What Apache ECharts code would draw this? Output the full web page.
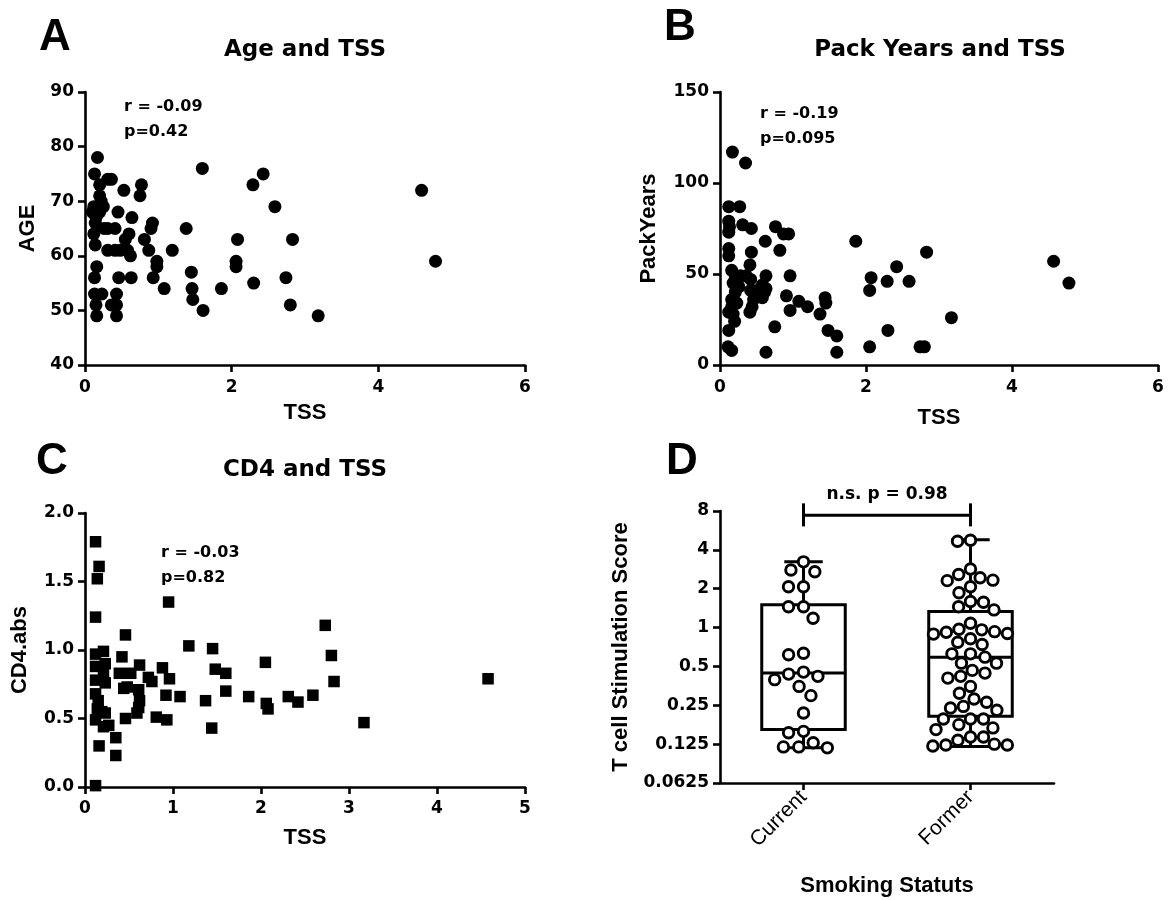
<!DOCTYPE html>
<html><head><meta charset="utf-8">
<script src="https://cdn.jsdelivr.net/npm/echarts@6/dist/echarts.min.js"></script>
<style>html,body{margin:0;padding:0;background:#fff}#c{width:1173px;height:900px}</style>
</head><body><div id="c"></div>
<script>
// ---------- DATA ----------
// Panel A: [TSS, AGE]
const ageTSS = [[0.17,78],[0.13,75],[0.31,74],[0.36,74],[0.2,73],[0.53,72],[0.77,73],[0.75,71],[0.2,71],[0.22,70],[0.12,69],[0.25,69],[0.1,68],[0.2,68],[0.15,67],[0.14,66],[0.12,64],[0.14,62],[0.26,65],[0.31,65],[0.41,65],[0.45,68],[0.64,67],[0.6,64],[0.55,63],[0.31,61],[0.41,61],[0.48,61],[0.58,61],[0.62,60],[0.16,58],[0.13,56],[0.46,56],[0.63,56],[0.13,53],[0.23,53],[0.15,51],[0.16,49],[0.43,53],[0.36,51],[0.43,51],[0.43,49],[0.81,63],[0.87,61],[0.92,66],[0.9,65],[0.98,59],[0.98,58],[0.93,56],[1.08,54],[1.19,61],[1.38,65],[1.45,57],[1.46,54],[1.47,52],[1.61,50],[1.6,76],[1.86,54],[2.06,59],[2.06,58],[2.08,63],[2.29,73],[2.43,75],[2.3,55],[2.59,69],[2.74,56],[2.8,51],[2.83,63],[3.18,49],[4.59,72],[4.78,59]];
// Panel B: [TSS, PackYears]
const packTSS = [[0.17,117],[0.35,111],[0.12,87],[0.27,87],[0.12,79],[0.13,76],[0.12,73],[0.31,77],[0.43,75],[0.76,76],[0.87,72],[0.94,72],[0.82,63],[0.62,68],[0.12,64],[0.12,60],[0.43,62],[0.41,55],[0.16,52],[0.21,49],[0.28,49],[0.36,49],[0.42,47],[0.18,45],[0.26,43],[0.21,40],[0.16,36],[0.23,34],[0.16,32],[0.18,28],[0.2,24],[0.12,29],[0.12,19],[0.11,10],[0.16,8],[0.42,41],[0.46,36],[0.44,32],[0.41,29],[0.51,41],[0.56,42],[0.61,40],[0.58,44],[0.53,38],[0.58,37],[0.63,42],[0.63,49],[0.75,21],[0.63,7],[0.96,49],[0.91,38],[0.96,30],[1.08,35],[1.2,32],[1.37,28],[1.44,37],[1.45,34],[1.48,19],[1.6,16],[1.6,7],[1.86,68],[2.05,41],[2.07,48],[2.29,46],[2.42,54],[2.59,46],[2.3,19],[2.05,10],[2.74,10],[2.8,10],[2.83,62],[3.17,26],[4.57,57],[4.78,45]];
// Panel C: [TSS, CD4.abs]
const cd4TSS = [[0.12,1.79],[0.16,1.61],[0.14,1.52],[0.12,1.24],[0.95,1.35],[0.46,1.11],[1.18,1.03],[1.45,1.01],[2.73,1.18],[2.8,0.96],[2.83,0.77],[2.05,0.91],[4.58,0.79],[3.17,0.47],[2.59,0.67],[2.42,0.62],[2.31,0.66],[2.06,0.61],[2.08,0.57],[1.86,0.66],[1.6,0.7],[1.6,0.83],[1.48,0.86],[1.37,0.63],[1.44,0.43],[1.08,0.66],[0.92,0.67],[0.93,0.49],[0.81,0.51],[0.96,0.79],[0.88,0.87],[0.76,0.77],[0.72,0.8],[0.62,0.89],[0.61,0.71],[0.62,0.63],[0.61,0.58],[0.59,0.54],[0.52,0.83],[0.44,0.72],[0.48,0.73],[0.42,0.95],[0.39,0.83],[0.46,0.5],[0.35,0.36],[0.35,0.23],[0.27,0.45],[0.21,0.44],[0.19,0.55],[0.16,0.3],[0.12,0.01],[0.12,0.97],[0.12,0.88],[0.21,0.99],[0.23,0.9],[0.21,0.82],[0.23,0.76],[0.12,0.78],[0.12,0.68],[0.15,0.63],[0.14,0.57],[0.12,0.49],[0.23,0.54]];
// Panel D
const smokingCategories = ['Current', 'Former'];
const currentScores = [3.23,2.71,2.79,2.07,2.07,1.45,1.45,1.18,0.615,0.633,0.452,0.419,0.436,0.395,0.35,0.297,0.218,0.153,0.157,0.119,0.117,0.119,0.128];
const formerScores = [4.67,4.75,2.84,2.58,2.43,2.31,2.33,2.07,1.86,1.59,1.57,1.45,1.37,0.97,0.93,0.90,0.82,0.89,0.92,0.96,1.08,0.74,0.77,0.53,0.626,0.59,0.626,0.53,0.466,0.419,0.444,0.406,0.35,0.31,0.28,0.264,0.245,0.229,0.238,0.196,0.196,0.196,0.167,0.162,0.177,0.142,0.134,0.142,0.123,0.121,0.123,0.125];
// box stats: [min, Q1, median, Q3, max]
const boxStats = [[0.117,0.162,0.444,1.5,3.23],[0.12,0.206,0.59,1.33,4.8]];
const bracketLevel = 7.4;
const annotations = {A: ['r = -0.09', 'p=0.42'], B: ['r = -0.19', 'p=0.095'], C: ['r = -0.03', 'p=0.82'], D: 'n.s. p = 0.98'};
const titles = ['Age and TSS', 'Pack Years and TSS', 'CD4 and TSS'];

// ---------- LAYOUT ----------
const W = 1173, H = 900;
const grids = [
  {left: 85, top: 92, width: 440, height: 273},
  {left: 720, top: 92, width: 438, height: 273},
  {left: 85, top: 513, width: 440, height: 274},
  {left: 720, top: 511, width: 334, height: 272}
];
const tickFont = 'DejaVu Sans';
const nameFont = 'Liberation Sans';
const lineW = 2.6;

function axisCommon() {
  return {
    axisLine: {show: true, onZero: false, lineStyle: {color: '#000', width: lineW}},
    axisTick: {show: true, length: 7, lineStyle: {color: '#000', width: lineW}},
    splitLine: {show: false},
    axisLabel: {color: '#000', fontFamily: tickFont, fontWeight: 'bold', fontSize: 17},
    nameTextStyle: {color: '#000', fontFamily: nameFont, fontWeight: 'bold', fontSize: 22},
    nameLocation: 'middle'
  };
}
function valAxis(extra) {
  const a = Object.assign(axisCommon(), extra);
  a.type = a.type || 'value';
  return a;
}

// beeswarm offsets (pixels) for panel D; dh horizontal spacing, dv vertical reach
const pxPerDoubling = grids[3].height / (Math.log2(8) - Math.log2(0.0625));
function swarm(values, dh, dv) {
  const pts = values.map((v, i) => ({i, y: Math.log2(v) * pxPerDoubling, x: 0}));
  const order = pts.slice().sort((a, b) => b.y - a.y);
  const placed = [];
  order.forEach(p => {
    const ivs = [];
    placed.forEach(q => {
      const dy = Math.abs(q.y - p.y);
      if (dy < dv) { const w = dh * Math.sqrt(1 - (dy / dv) * (dy / dv)); ivs.push([q.x - w, q.x + w]); }
    });
    const cands = [0];
    ivs.forEach(iv => cands.push(iv[0], iv[1]));
    cands.sort((a, b) => Math.abs(a) - Math.abs(b) || a - b);
    for (const c of cands) {
      if (ivs.every(iv => c <= iv[0] + 1e-6 || c >= iv[1] - 1e-6)) { p.x = c; break; }
    }
    placed.push(p);
  });
  return pts.map(p => p.x);
}
function swarmData(values, cat, dh, dv) {
  const offs = swarm(values, dh, dv);
  return values.map((v, i) => ({value: [cat, v], symbolOffset: [offs[i], 0]}));
}

const logFmt = v => String(parseFloat(Number(v).toPrecision(6)));

const option = {
  animation: false,
  backgroundColor: '#fff',
  grid: grids.map(g => Object.assign({containLabel: false}, g)),
  xAxis: [
    valAxis({gridIndex: 0, min: 0, max: 6, interval: 2, name: 'TSS', nameGap: 37,
      axisLabel: Object.assign(axisCommon().axisLabel, {margin: 14})}),
    valAxis({gridIndex: 1, min: 0, max: 6, interval: 2, name: 'TSS', nameGap: 42,
      axisLabel: Object.assign(axisCommon().axisLabel, {margin: 14})}),
    valAxis({gridIndex: 2, min: 0, max: 5, interval: 1, name: 'TSS', nameGap: 40,
      axisLabel: Object.assign(axisCommon().axisLabel, {margin: 13})}),
    valAxis({gridIndex: 3, type: 'category', data: smokingCategories, boundaryGap: true,
      name: 'Smoking Statuts', nameGap: 92,
      axisTick: {show: true, alignWithLabel: true, interval: 0, length: 7, lineStyle: {color: '#000', width: lineW}},
      axisLabel: {color: '#000', fontFamily: 'Liberation Sans', fontSize: 21, rotate: 45, margin: 11, interval: 0}})
  ],
  yAxis: [
    valAxis({gridIndex: 0, min: 40, max: 90, interval: 10, name: 'AGE', nameGap: 46,
      axisLabel: Object.assign(axisCommon().axisLabel, {margin: 11})}),
    valAxis({gridIndex: 1, min: 0, max: 150, interval: 50, name: 'PackYears', nameGap: 60,
      axisLabel: Object.assign(axisCommon().axisLabel, {margin: 11})}),
    valAxis({gridIndex: 2, min: 0, max: 2, interval: 0.5, name: 'CD4.abs', nameGap: 54,
      axisLabel: Object.assign(axisCommon().axisLabel, {margin: 11, formatter: v => v.toFixed(1)})}),
    valAxis({gridIndex: 3, type: 'log', logBase: 2, min: 0.0625, max: 8, splitNumber: 7,
      name: 'T cell Stimulation Score', nameGap: 88,
      minorTick: {show: false},
      axisLabel: Object.assign(axisCommon().axisLabel, {margin: 11, formatter: logFmt})})
  ],
  series: [
    {type: 'scatter', xAxisIndex: 0, yAxisIndex: 0, data: ageTSS, symbol: 'circle', symbolSize: 13,
      itemStyle: {color: '#000', opacity: 1}},
    {type: 'scatter', xAxisIndex: 1, yAxisIndex: 1, data: packTSS, symbol: 'circle', symbolSize: 13,
      itemStyle: {color: '#000', opacity: 1}},
    {type: 'scatter', xAxisIndex: 2, yAxisIndex: 2, data: cd4TSS, symbol: 'rect', symbolSize: 11.5,
      itemStyle: {color: '#000', opacity: 1}},
    {type: 'custom', xAxisIndex: 3, yAxisIndex: 3, z: 2,
      data: boxStats.map((s, i) => [i].concat(s)),
      encode: {x: 0, y: [1, 2, 3, 4, 5]},
      renderItem: function (params, api) {
        const c = api.value(0);
        const pMin = api.coord([c, api.value(1)]);
        const pQ1 = api.coord([c, api.value(2)]);
        const pMed = api.coord([c, api.value(3)]);
        const pQ3 = api.coord([c, api.value(4)]);
        const pMax = api.coord([c, api.value(5)]);
        const band = api.size([1, 0])[0];
        const hw = band * 0.25, cw = band * 0.115;
        const x = pMed[0];
        const st = {stroke: '#000', lineWidth: 3, fill: null};
        return {type: 'group', children: [
          {type: 'rect', shape: {x: x - hw, y: pQ3[1], width: 2 * hw, height: pQ1[1] - pQ3[1]}, style: st},
          {type: 'line', shape: {x1: x - hw, y1: pMed[1], x2: x + hw, y2: pMed[1]}, style: st},
          {type: 'line', shape: {x1: x, y1: pQ3[1], x2: x, y2: pMax[1]}, style: st},
          {type: 'line', shape: {x1: x, y1: pQ1[1], x2: x, y2: pMin[1]}, style: st},
          {type: 'line', shape: {x1: x - cw, y1: pMax[1], x2: x + cw, y2: pMax[1]}, style: st},
          {type: 'line', shape: {x1: x - cw, y1: pMin[1], x2: x + cw, y2: pMin[1]}, style: st}
        ]};
      }},
    {type: 'scatter', xAxisIndex: 3, yAxisIndex: 3, z: 3, data: swarmData(currentScores, 0, 15, 15),
      symbol: 'circle', symbolSize: 10.5, itemStyle: {color: '#fff', borderColor: '#000', borderWidth: 2.9, opacity: 1}},
    {type: 'scatter', xAxisIndex: 3, yAxisIndex: 3, z: 3, data: swarmData(formerScores, 1, 13, 13),
      symbol: 'circle', symbolSize: 10.5, itemStyle: {color: '#fff', borderColor: '#000', borderWidth: 2.9, opacity: 1}},
    {type: 'custom', xAxisIndex: 3, yAxisIndex: 3, z: 4, clip: false,
      data: [[0, 1, bracketLevel]],
      encode: {x: 0, y: 2},
      renderItem: function (params, api) {
        const p0 = api.coord([api.value(0), api.value(2)]);
        const p1 = api.coord([api.value(1), api.value(2)]);
        const st = {stroke: '#000', lineWidth: 3};
        return {type: 'group', children: [
          {type: 'line', shape: {x1: p0[0], y1: p0[1], x2: p1[0], y2: p1[1]}, style: st},
          {type: 'line', shape: {x1: p0[0], y1: p0[1] - 12, x2: p0[0], y2: p0[1] + 11}, style: st},
          {type: 'line', shape: {x1: p1[0], y1: p1[1] - 12, x2: p1[0], y2: p1[1] + 11}, style: st},
          {type: 'text', x: (p0[0] + p1[0]) / 2, y: p0[1] - 21,
            style: {text: annotations.D, fill: '#000', font: 'bold 17px "DejaVu Sans"', align: 'center', verticalAlign: 'middle'}}
        ]};
      }}
  ],
  graphic: [
    {type: 'text', left: 39, top: 16, style: {text: 'A', font: 'bold 44px "Liberation Sans"', fill: '#000'}},
    {type: 'text', left: 664, top: 6, style: {text: 'B', font: 'bold 44px "Liberation Sans"', fill: '#000'}},
    {type: 'text', left: 36, top: 440, style: {text: 'C', font: 'bold 44px "Liberation Sans"', fill: '#000'}},
    {type: 'text', left: 666, top: 440, style: {text: 'D', font: 'bold 44px "Liberation Sans"', fill: '#000'}},
    {type: 'text', x: 305, y: 50, style: {text: titles[0], font: 'bold 23px "DejaVu Sans"', fill: '#000', align: 'center', verticalAlign: 'middle'}},
    {type: 'text', x: 940, y: 50, style: {text: titles[1], font: 'bold 23px "DejaVu Sans"', fill: '#000', align: 'center', verticalAlign: 'middle'}},
    {type: 'text', x: 305, y: 470, style: {text: titles[2], font: 'bold 23px "DejaVu Sans"', fill: '#000', align: 'center', verticalAlign: 'middle'}},
    {type: 'text', x: 124, y: 107, style: {text: annotations.A[0], font: 'bold 16px "DejaVu Sans"', fill: '#000', verticalAlign: 'middle'}},
    {type: 'text', x: 124, y: 132, style: {text: annotations.A[1], font: 'bold 16px "DejaVu Sans"', fill: '#000', verticalAlign: 'middle'}},
    {type: 'text', x: 760, y: 114, style: {text: annotations.B[0], font: 'bold 16px "DejaVu Sans"', fill: '#000', verticalAlign: 'middle'}},
    {type: 'text', x: 760, y: 139, style: {text: annotations.B[1], font: 'bold 16px "DejaVu Sans"', fill: '#000', verticalAlign: 'middle'}},
    {type: 'text', x: 161, y: 553, style: {text: annotations.C[0], font: 'bold 16px "DejaVu Sans"', fill: '#000', verticalAlign: 'middle'}},
    {type: 'text', x: 161, y: 578, style: {text: annotations.C[1], font: 'bold 16px "DejaVu Sans"', fill: '#000', verticalAlign: 'middle'}}
  ]
};
const chart = echarts.init(document.getElementById('c'), null, {renderer: 'canvas', width: W, height: H});
chart.setOption(option);
</script>
</body></html>
